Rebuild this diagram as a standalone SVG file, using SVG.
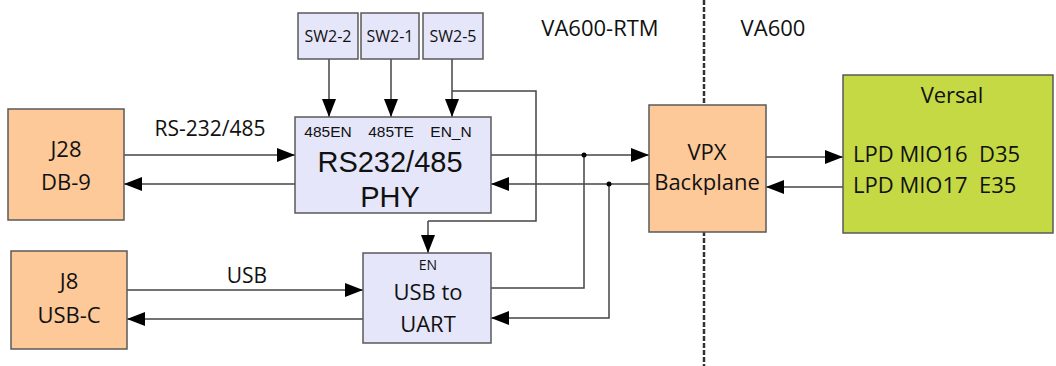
<svg xmlns="http://www.w3.org/2000/svg" width="1056" height="366" viewBox="0 0 1056 366">
<defs>
<marker id="ah" markerUnits="userSpaceOnUse" markerWidth="18" markerHeight="14" refX="18" refY="7" orient="auto">
<path d="M0,0 L18,7 L0,14 Z" fill="#000"/>
</marker>
<style>
.box{stroke:#595959;stroke-width:1.5}
.org{fill:#FDC998}
.lav{fill:#E6E6FA}
.grn{fill:#C4D944}
.t{font-family:"Open Sans","Noto Sans",sans-serif;fill:#111;text-anchor:middle}
.a{font-family:"Liberation Sans",Arial,sans-serif;fill:#111;text-anchor:middle}
.ln{fill:none;stroke:#444;stroke-width:1.5}
.ar{fill:none;stroke:#444;stroke-width:1.5;marker-end:url(#ah)}
</style>
</defs>
<rect width="1056" height="366" fill="#fff"/>
<g id="divider">
<line x1="704" y1="0" x2="704" y2="366" stroke="#333" stroke-width="2.5" stroke-dasharray="5,2"/>
<text class="t" x="600" y="36" font-size="22">VA600-RTM</text>
<text class="t" x="773" y="36" font-size="22">VA600</text>
</g>
<g id="connectors">
<path class="ar" d="M329,59 V117"/>
<path class="ar" d="M391,59 V117"/>
<path class="ar" d="M452,59 V117"/>
<path class="ln" d="M452,91 H536 V221 H428"/>
<path class="ar" d="M428,221 V253"/>
<path class="ar" d="M124,155 H295"/>
<path class="ar" d="M295,184 H124"/>
<path class="ar" d="M491,155 H649"/>
<path class="ar" d="M649,184 H491"/>
<path class="ln" d="M491,288 H584 V155"/>
<path class="ar" d="M609,184 V318 H491"/>
<circle cx="584" cy="155" r="2.5" fill="#000"/>
<circle cx="609" cy="184" r="2.5" fill="#000"/>
<path class="ar" d="M766,157 H843"/>
<path class="ar" d="M843,187 H766"/>
<path class="ar" d="M127,290 H363"/>
<path class="ar" d="M363,319 H127"/>
<text class="t" x="210" y="136" font-size="21">RS-232/485</text>
<text class="t" x="247" y="283" font-size="21">USB</text>
</g>
<g id="sw2-2"><rect class="box lav" x="298" y="13" width="60" height="46"/><text class="t" x="328" y="42" font-size="16">SW2-2</text></g>
<g id="sw2-1"><rect class="box lav" x="361" y="13" width="58" height="46"/><text class="t" x="390" y="42" font-size="16">SW2-1</text></g>
<g id="sw2-5"><rect class="box lav" x="423" y="13" width="60" height="46"/><text class="t" x="453" y="42" font-size="16">SW2-5</text></g>
<g id="j28"><rect class="box org" x="8" y="109" width="116" height="111"/><text class="t" x="66" y="157" font-size="22">J28</text><text class="t" x="66" y="190" font-size="22">DB-9</text></g>
<g id="phy"><rect class="box lav" x="295" y="117" width="196" height="96"/>
<text class="a" x="328" y="137" font-size="15.5">485EN</text>
<text class="a" x="391" y="137" font-size="15.5">485TE</text>
<text class="a" x="451" y="137" font-size="15.5">EN_N</text>
<text class="a" x="390" y="172" font-size="29">RS232/485</text>
<text class="a" x="390" y="207" font-size="29">PHY</text></g>
<g id="j8"><rect class="box org" x="11" y="251" width="116" height="98"/><text class="t" x="69" y="289" font-size="22">J8</text><text class="t" x="69" y="323" font-size="22">USB-C</text></g>
<g id="uart"><rect class="box lav" x="363" y="253" width="128" height="90"/>
<text class="t" x="428" y="270" font-size="14">EN</text>
<text class="t" x="428" y="300" font-size="22">USB to</text>
<text class="t" x="428" y="332" font-size="22">UART</text></g>
<g id="vpx"><rect class="box org" x="649" y="105" width="117" height="127"/><text class="t" x="707" y="160" font-size="22">VPX</text><text class="t" x="707" y="190" font-size="22">Backplane</text></g>
<g id="versal"><rect class="box grn" x="843" y="75" width="210" height="158"/>
<text class="t" x="952" y="103" font-size="22">Versal</text>
<text class="t" x="853" y="162" font-size="22" style="text-anchor:start" xml:space="preserve">LPD MIO16  D35</text>
<text class="t" x="853" y="193" font-size="22" style="text-anchor:start" xml:space="preserve">LPD MIO17  E35</text></g>
</svg>
